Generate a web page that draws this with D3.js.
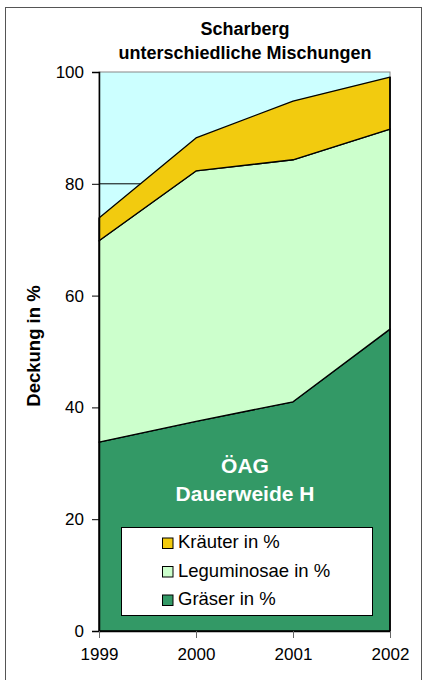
<!DOCTYPE html>
<html>
<head>
<meta charset="utf-8">
<title>Scharberg</title>
<script src="https://d3js.org/d3.v7.min.js"></script>
<style>
body { margin: 0; background: #fff; }
svg text { font-family: 'Liberation Sans', Arial, sans-serif; }
</style>
</head>
<body>
<script>
// data
var years = [1999, 2000, 2001, 2002];
var graeser = [33.8, 37.5, 41.0, 54.0];
var leguminosae = [36.0, 44.8, 43.3, 35.8];
var kraeuter = [4.1, 5.9, 10.5, 9.3];
var seriesNames = ["Gräser in %", "Leguminosae in %", "Kräuter in %"];
var seriesColors = ["#339966", "#CCFFCC", "#F2CB0F"];
var yTicks = [0, 20, 40, 60, 80, 100];

var W = 424, H = 680;
var m = {left: 99, right: 390, top: 72, bottom: 631};

var svg = d3.select("body").append("svg")
    .attr("width", W)
    .attr("height", H);

// outer frame
svg.append("rect")
    .attr("x", 5.5).attr("y", 7.5)
    .attr("width", 416).attr("height", 700)
    .attr("fill", "white")
    .attr("stroke", "#555").attr("stroke-width", 1);

var x = d3.scaleLinear().domain([1999, 2002]).range([m.left, m.right]);
var y = d3.scaleLinear().domain([0, 100]).range([m.bottom, m.top]);

// plot background
svg.append("rect")
    .attr("x", m.left).attr("y", m.top)
    .attr("width", m.right - m.left).attr("height", m.bottom - m.top)
    .attr("fill", "#CCFFFF")
    .attr("stroke", "#888");

// gridlines
svg.append("g").selectAll("line")
    .data(yTicks.filter(function(d){ return d > 0 && d < 100; }))
    .enter().append("line")
    .attr("x1", m.left).attr("x2", m.right)
    .attr("y1", function(d){ return y(d); })
    .attr("y2", function(d){ return y(d); })
    .attr("stroke", "black").attr("stroke-width", 1);

var table = years.map(function(yr, i){
    return {year: yr, g: graeser[i], l: leguminosae[i], k: kraeuter[i]};
});
var stack = d3.stack().keys(["g", "l", "k"]);
var layers = stack(table);

var area = d3.area()
    .x(function(d){ return x(d.data.year); })
    .y0(function(d){ return y(d[0]); })
    .y1(function(d){ return y(d[1]); });

svg.append("g").selectAll("path")
    .data(layers)
    .enter().append("path")
    .attr("d", area)
    .attr("fill", function(d, i){ return seriesColors[i]; })
    .attr("stroke", "black")
    .attr("stroke-width", 1.3)
    .attr("stroke-linejoin", "round");

// axes
var yAxis = d3.axisLeft(y).tickValues(yTicks).tickSize(7).tickPadding(8);
var gy = svg.append("g")
    .attr("transform", "translate(" + m.left + ",0)")
    .call(yAxis);
gy.select(".domain").attr("stroke", "black").attr("stroke-width", 1.5);
gy.selectAll("text").attr("font-size", 17).attr("fill", "black")
    .attr("font-family", "'Liberation Sans', Arial, sans-serif");

var xAxis = d3.axisBottom(x).tickValues(years).tickFormat(d3.format("d"))
    .tickSize(7).tickPadding(10).tickSizeOuter(0);
var gx = svg.append("g")
    .attr("transform", "translate(0," + m.bottom + ")")
    .call(xAxis);
gx.select(".domain").attr("stroke", "black").attr("stroke-width", 1.5);
gx.selectAll("line").attr("stroke", "#666");
gx.selectAll("text").attr("font-size", 17).attr("fill", "black")
    .attr("font-family", "'Liberation Sans', Arial, sans-serif");

// right edge of plot
svg.append("line")
    .attr("x1", m.right).attr("x2", m.right)
    .attr("y1", y(99.1)).attr("y2", m.bottom)
    .attr("stroke", "black").attr("stroke-width", 1.5);

// title
svg.append("text")
    .attr("x", 245).attr("y", 35)
    .attr("text-anchor", "middle")
    .attr("font-size", 18).attr("font-weight", "bold")
    .text("Scharberg");
svg.append("text")
    .attr("x", 245).attr("y", 59)
    .attr("text-anchor", "middle")
    .attr("font-size", 18).attr("font-weight", "bold")
    .text("unterschiedliche Mischungen");

// y label
svg.append("text")
    .attr("transform", "translate(40,346) rotate(-90)")
    .attr("text-anchor", "middle")
    .attr("font-size", 18.5).attr("font-weight", "bold")
    .text("Deckung in %");

// annotation
svg.append("text")
    .attr("x", 245).attr("y", 473)
    .attr("text-anchor", "middle")
    .attr("font-size", 21).attr("font-weight", "bold")
    .attr("fill", "white")
    .text("ÖAG");
svg.append("text")
    .attr("x", 245).attr("y", 501)
    .attr("text-anchor", "middle")
    .attr("font-size", 21).attr("font-weight", "bold")
    .attr("fill", "white")
    .text("Dauerweide H");

// legend
var lg = svg.append("g");
lg.append("rect")
    .attr("x", 121.5).attr("y", 527.5)
    .attr("width", 251).attr("height", 88)
    .attr("fill", "white")
    .attr("stroke", "black").attr("stroke-width", 1);

var legendItems = [2, 1, 0];
var li = lg.selectAll("g.item")
    .data(legendItems)
    .enter().append("g")
    .attr("class", "item")
    .attr("transform", function(d, i){ return "translate(162," + (537.5 + i * 28.5) + ")"; });
li.append("rect")
    .attr("x", 0.5).attr("y", 0.5)
    .attr("width", 10.5).attr("height", 10.5)
    .attr("fill", function(d){ return seriesColors[d]; })
    .attr("stroke", "black").attr("stroke-width", 1);
li.append("text")
    .attr("x", 16).attr("y", 10.5)
    .attr("font-size", 18.5)
    .text(function(d){ return seriesNames[d]; });
</script>
</body>
</html>
